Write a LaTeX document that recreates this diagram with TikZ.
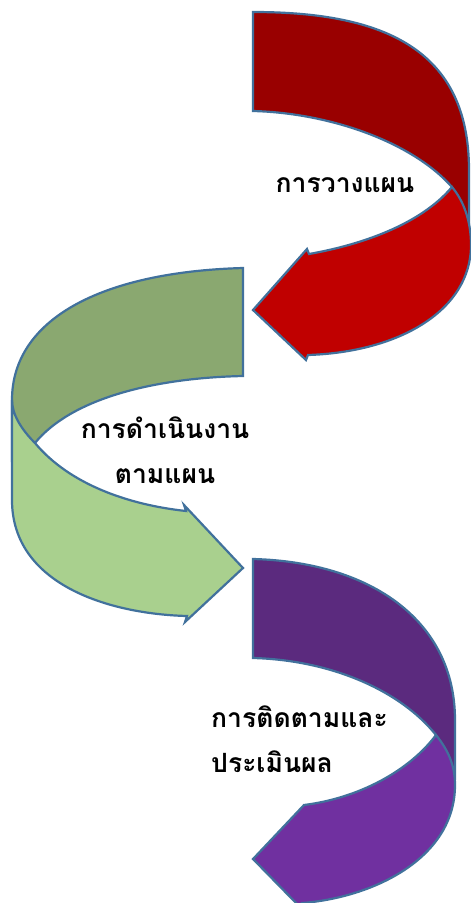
\documentclass[tikz,border=0pt]{standalone}
\usepackage{fontspec}
\newfontfamily\thaifont[Script=Thai]{Loma}
\definecolor{edgeblue}{HTML}{41719C}
\definecolor{redback}{HTML}{990000}
\definecolor{redfront}{HTML}{C00000}
\definecolor{greenback}{HTML}{8AA870}
\definecolor{greenfront}{HTML}{A9D08E}
\definecolor{purpleback}{HTML}{5B2A7E}
\definecolor{purplefront}{HTML}{7030A0}
\tikzset{
  band/.style={draw=edgeblue, line width=2.2pt, line join=miter},
  steplabel/.style={font=\thaifont\bfseries\fontsize{26.5}{45}\selectfont, text=black, inner sep=0pt}
}
\begin{document}
\begin{tikzpicture}[x=1pt,y=-1pt]
\clip (0,0) rectangle (471,903);
\fill[white] (0,0) rectangle (471,903);
% ---------- red arrow ----------
\filldraw[band, fill=redback]
  (253,12) .. controls (385,12) and (469,50) .. (469,170) -- (469,230) -- (452,187)
  .. controls (412,142) and (330,113) .. (253,111) -- cycle;
\filldraw[band, fill=redfront]
  (452,187) .. controls (463,200) and (471,220) .. (471,245)
  .. controls (471,310) and (400,352) .. (308,355) -- (306,360) -- (253,310) -- (307,249) -- (309,254)
  .. controls (360,245) and (420,225) .. (452,187) -- cycle;
% ---------- green arrow ----------
\filldraw[band, fill=greenback]
  (243,268) .. controls (100,272) and (12,320) .. (12,400) -- (12,460) -- (35,443)
  .. controls (70,400) and (150,378) .. (243,376) -- cycle;
\filldraw[band, fill=greenfront]
  (35,443) .. controls (22,430) and (12,415) .. (12,400) -- (12,500)
  .. controls (12,585) and (110,614) .. (187,616) -- (185,622) -- (243,568) -- (184,505) -- (186,511)
  .. controls (130,505) and (70,485) .. (35,443) -- cycle;
% ---------- purple arrow ----------
\filldraw[band, fill=purpleback]
  (253,559) .. controls (370,562) and (455,620) .. (455,720) -- (455,775) -- (436,735)
  .. controls (400,690) and (330,660) .. (253,658) -- cycle;
\filldraw[band, fill=purplefront]
  (436,735) .. controls (448,750) and (455,765) .. (455,785)
  .. controls (455,860) and (370,898) .. (302,903) -- (299,906) -- (253,859) -- (304,805)
  .. controls (360,798) and (410,770) .. (436,735) -- cycle;
% ---------- labels ----------
\node[steplabel] (plan) at (345,185) {การวางแผน};
\node[steplabel, align=center] (do) at (165,450) {การดำเนินงาน\\ตามแผน};
\node[steplabel, align=left, anchor=west] (check) at (211,739) {การติดตามและ\\ประเมินผล};
\end{tikzpicture}
\end{document}
